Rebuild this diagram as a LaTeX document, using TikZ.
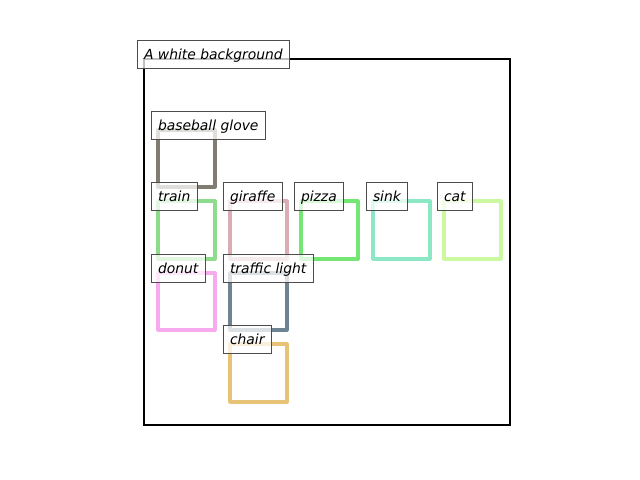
\documentclass[tikz,border=0pt]{standalone}
\usepackage{fontspec}
\setmainfont{DejaVu Sans}
\definecolor{glovecol}{RGB}{128,124,114}
\definecolor{traincol}{RGB}{140,220,140}
\definecolor{giraffecol}{RGB}{218,172,180}
\definecolor{pizzacol}{RGB}{116,230,116}
\definecolor{sinkcol}{RGB}{140,232,196}
\definecolor{catcol}{RGB}{204,248,160}
\definecolor{donutcol}{RGB}{248,170,238}
\definecolor{lightcol}{RGB}{110,132,146}
\definecolor{chaircol}{RGB}{232,194,118}
\tikzset{
  objbox/.style={line width=2.2pt, line join=round},
  tag/.style={anchor=text, draw=black!70, line width=0.75pt, fill=white,
    fill opacity=0.75, text opacity=1, draw opacity=1, inner sep=5pt,
    text height=8.3pt, text depth=1.5pt,
    font=\fontsize{10}{12}\selectfont\itshape}
}
\begin{document}
\begin{tikzpicture}[x=0.72pt, y=-0.72pt]
    \useasboundingbox (0, 0) rectangle (640, 480) ;
    \draw[line width=1.8pt] (144, 59) rectangle (510, 425) ;
    % object boxes
    \draw[objbox, glovecol] (158, 130) rectangle ++ (57, 57) ;
    \draw[objbox, traincol] (158, 201) rectangle ++ (57, 58) ;
    \draw[objbox, giraffecol] (230, 201) rectangle ++ (57, 58) ;
    \draw[objbox, pizzacol] (301, 201) rectangle ++ (57, 58) ;
    \draw[objbox, sinkcol] (373, 201) rectangle ++ (57, 58) ;
    \draw[objbox, catcol] (444, 201) rectangle ++ (57, 58) ;
    \draw[objbox, donutcol] (158, 273) rectangle ++ (57, 57) ;
    \draw[objbox, lightcol] (230, 273) rectangle ++ (57, 57) ;
    \draw[objbox, chaircol] (230, 344) rectangle ++ (57, 58) ;
    % labels
    \node[tag] (bg) at (144, 59) {A white background} ;
    \node[tag] (glove) at (158, 130) {baseball glove} ;
    \node[tag] (train) at (158, 201) {train} ;
    \node[tag] (giraffe) at (230, 201) {giraffe} ;
    \node[tag] (pizza) at (301, 201) {pizza} ;
    \node[tag] (sink) at (373, 201) {sink} ;
    \node[tag] (cat) at (444, 201) {cat} ;
    \node[tag] (donut) at (158, 273) {donut} ;
    \node[tag] (light) at (230, 273) {traffic light} ;
    \node[tag] (chair) at (230, 344) {chair} ;
  \end{tikzpicture}
\end{document}
